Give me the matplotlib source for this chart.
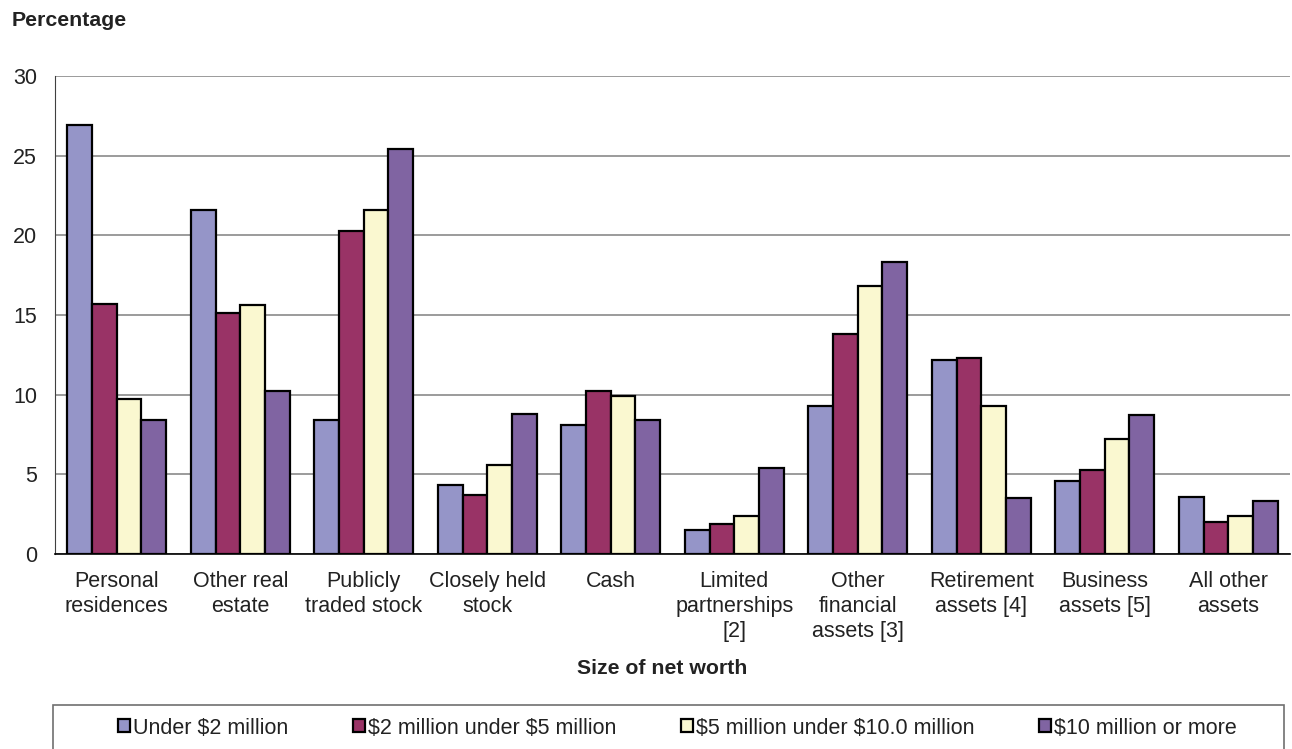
import matplotlib
matplotlib.use("Agg")
import matplotlib.pyplot as plt
import numpy as np
from matplotlib.patches import Patch, Rectangle

plt.rcParams['font.family'] = ['Liberation Sans', 'DejaVu Sans']

categories = ["Personal\nresidences", "Other real\nestate", "Publicly\ntraded stock",
              "Closely held\nstock", "Cash", "Limited\npartnerships\n[2]",
              "Other\nfinancial\nassets [3]", "Retirement\nassets [4]",
              "Business\nassets [5]", "All other\nassets"]
series_names = ["Under $2 million", "$2 million under $5 million",
                "$5 million under $10.0 million", "$10 million or more"]
under_2m = [26.9, 21.6, 8.4, 4.3, 8.1, 1.5, 9.3, 12.2, 4.6, 3.6]
m2_to_5 = [15.7, 15.1, 20.3, 3.7, 10.2, 1.9, 13.8, 12.3, 5.3, 2.0]
m5_to_10 = [9.7, 15.6, 21.6, 5.6, 9.9, 2.4, 16.8, 9.3, 7.2, 2.4]
m10_plus = [8.4, 10.2, 25.4, 8.8, 8.4, 5.4, 18.3, 3.5, 8.7, 3.3]
series = [under_2m, m2_to_5, m5_to_10, m10_plus]
colors = ["#9595C8", "#993366", "#FAF8D0", "#8064A2"]
yticks = [0, 5, 10, 15, 20, 25, 30]

W, H = 1292, 749
fig = plt.figure(figsize=(W / 100, H / 100), dpi=100)
ax = fig.add_axes([55 / W, 1 - 554 / H, (1290 - 55) / W, (554 - 76) / H])

labels_safe = [s.replace("$", r"\$") for s in series_names]

x = np.arange(len(categories))
bw = 0.2
for i, (vals, c) in enumerate(zip(series, colors)):
    ax.bar(x + (i - 1.5) * bw, vals, width=bw, color=c, edgecolor="black",
           linewidth=1.6, label=labels_safe[i], zorder=3)

ax.set_xlim(-0.5, len(categories) - 0.5)
ax.set_ylim(0, 30)
ax.set_yticks(yticks)
ax.yaxis.grid(True, color="#808080", linewidth=1.1, zorder=0)
ax.set_axisbelow(True)
ax.set_xticks(x)
ax.set_xticklabels(categories, fontsize=15.5, color="#222222", linespacing=1.25)
ax.tick_params(axis="x", length=0, pad=12)
ax.tick_params(axis="y", length=0, pad=13, labelsize=15.5, labelcolor="#222222")
for s in ["top", "right"]:
    ax.spines[s].set_visible(False)
ax.spines["left"].set_color("#404040")
ax.spines["bottom"].set_color("black")
ax.spines["bottom"].set_linewidth(1.2)

fig.text(12 / W, 1 - 20 / H, "Percentage", fontsize=15.3, fontweight="bold",
         color="#222222", ha="left", va="center")
fig.text(662 / W, 1 - 668 / H, "Size of net worth", fontsize=15.3,
         fontweight="bold", color="#222222", ha="center", va="center")

# legend box (extends below figure edge)
fig.patches.append(Rectangle((53 / W, -0.05), (1284 - 53) / W, (749 - 705) / H + 0.05,
                             transform=fig.transFigure, fill=False,
                             edgecolor="#707070", linewidth=1.2))
handles = [Patch(facecolor=c, edgecolor="black", linewidth=1.6) for c in colors]
fig.legend(handles, labels_safe, loc="center left",
           bbox_to_anchor=(107 / W, 1 - 728 / H), ncol=4, frameon=False,
           fontsize=15.5, handlelength=0.55, handleheight=0.55,
           handletextpad=0.15, columnspacing=3.0, borderpad=0,
           labelcolor="#222222")

fig.savefig("out.png", dpi=100)
